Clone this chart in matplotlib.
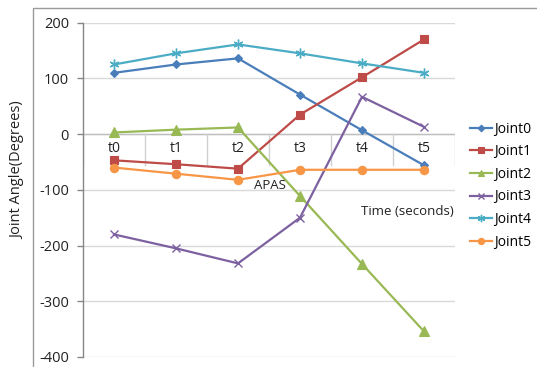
import matplotlib
matplotlib.use("Agg")
import matplotlib.pyplot as plt
from matplotlib.patches import Rectangle

categories = ["t0", "t1", "t2", "t3", "t4", "t5"]
joint0 = [110, 125, 136, 71, 7, -56]
joint1 = [-47, -54, -62, 35, 102, 170]
joint2 = [3, 8, 12, -111, -233, -354]
joint3 = [-180, -205, -232, -150, 67, 13]
joint4 = [125, 145, 161, 145, 127, 110]
joint5 = [-60, -71, -82, -64, -64, -64]
series_names = ["Joint0", "Joint1", "Joint2", "Joint3", "Joint4", "Joint5"]
y_ticks = [200, 100, 0, -100, -200, -300, -400]

FONT = ["Open Sans", "DejaVu Sans"]
plt.rcParams["font.family"] = FONT

W, H = 537, 367
fig = plt.figure(figsize=(W / 100, H / 100), dpi=100)

# outer chart-area border (only its left and top edges are visible)
fig.add_artist(Rectangle((33 / W, -0.1), 1.2, 1 - 8 / H + 0.1,
                         transform=fig.transFigure, fill=False,
                         edgecolor="#9a9a9a", linewidth=1.0))

ax = fig.add_axes([83 / W, 1 - 357 / H, (455 - 83) / W, (357 - 22.7) / H])

styles = [
    dict(color="#4A7EBB", marker="D", ms=4.5),
    dict(color="#BE4B48", marker="s", ms=6),
    dict(color="#98B954", marker="^", ms=6.5),
    dict(color="#7D60A0", marker="x", ms=6, mew=1.0),
    dict(color="#4BACC6", marker=(6, 2, 0), ms=7, mew=1.0),
    dict(color="#F79646", marker="o", ms=6),
]
data = [joint0, joint1, joint2, joint3, joint4, joint5]
x = list(range(len(categories)))

ax.set_xlim(-0.5, len(categories) - 0.5)
ax.set_ylim(-400, 200)

# horizontal gridlines
for yv in y_ticks:
    ax.axhline(yv, color="#d9d9d9", linewidth=1.0, zorder=0)

# category axis at zero with boundary tick marks hanging below it
ax.axhline(0, color="#bfbfbf", linewidth=1.0, zorder=1)
for b in [i - 0.5 for i in range(len(categories) + 1)]:
    ax.plot([b, b], [0, -55], color="#d0d0d0", linewidth=1.0, zorder=1)
for xi, lab in zip(x, categories):
    ax.text(xi, -12, lab, ha="center", va="top", fontsize=10, color="#222222",
            zorder=2)

handles = []
for name, vals, st in zip(series_names, data, styles):
    ln, = ax.plot(x, vals, color=st["color"], linewidth=1.6,
                  marker=st["marker"], markersize=st["ms"],
                  markeredgewidth=st.get("mew", 0.8),
                  markerfacecolor=st["color"], markeredgecolor=st["color"],
                  label=name, zorder=3)
    handles.append(ln)

ax.set_yticks(y_ticks)
ax.set_yticklabels([str(v) for v in y_ticks], fontsize=10.5, color="#222222")
ax.set_xticks([])
ax.tick_params(axis="y", length=4, color="#868686", width=1.0, pad=6)
for side in ["top", "right", "bottom"]:
    ax.spines[side].set_visible(False)
ax.spines["left"].set_color("#868686")
ax.spines["left"].set_linewidth(1.0)

ax.text(2.25, -92, "APAS", ha="left", va="center", fontsize=9.5, color="#222222")
ax.text(5.48, -138, "Time (seconds)", ha="right", va="center", fontsize=9.5,
        color="#222222")

fig.text(18 / W, 1 - 170 / H, "Joint Angle(Degrees)", rotation=90,
         ha="center", va="center", fontsize=10.5, color="#222222")

fig.legend(handles=handles, labels=series_names,
           loc="upper left", bbox_to_anchor=(464 / W, 1 - 116 / H),
           frameon=False, fontsize=10, handlelength=1.6,
           handletextpad=0.15, labelspacing=0.55, borderaxespad=0,
           markerscale=0.75)

fig.savefig("out.png", dpi=100)
